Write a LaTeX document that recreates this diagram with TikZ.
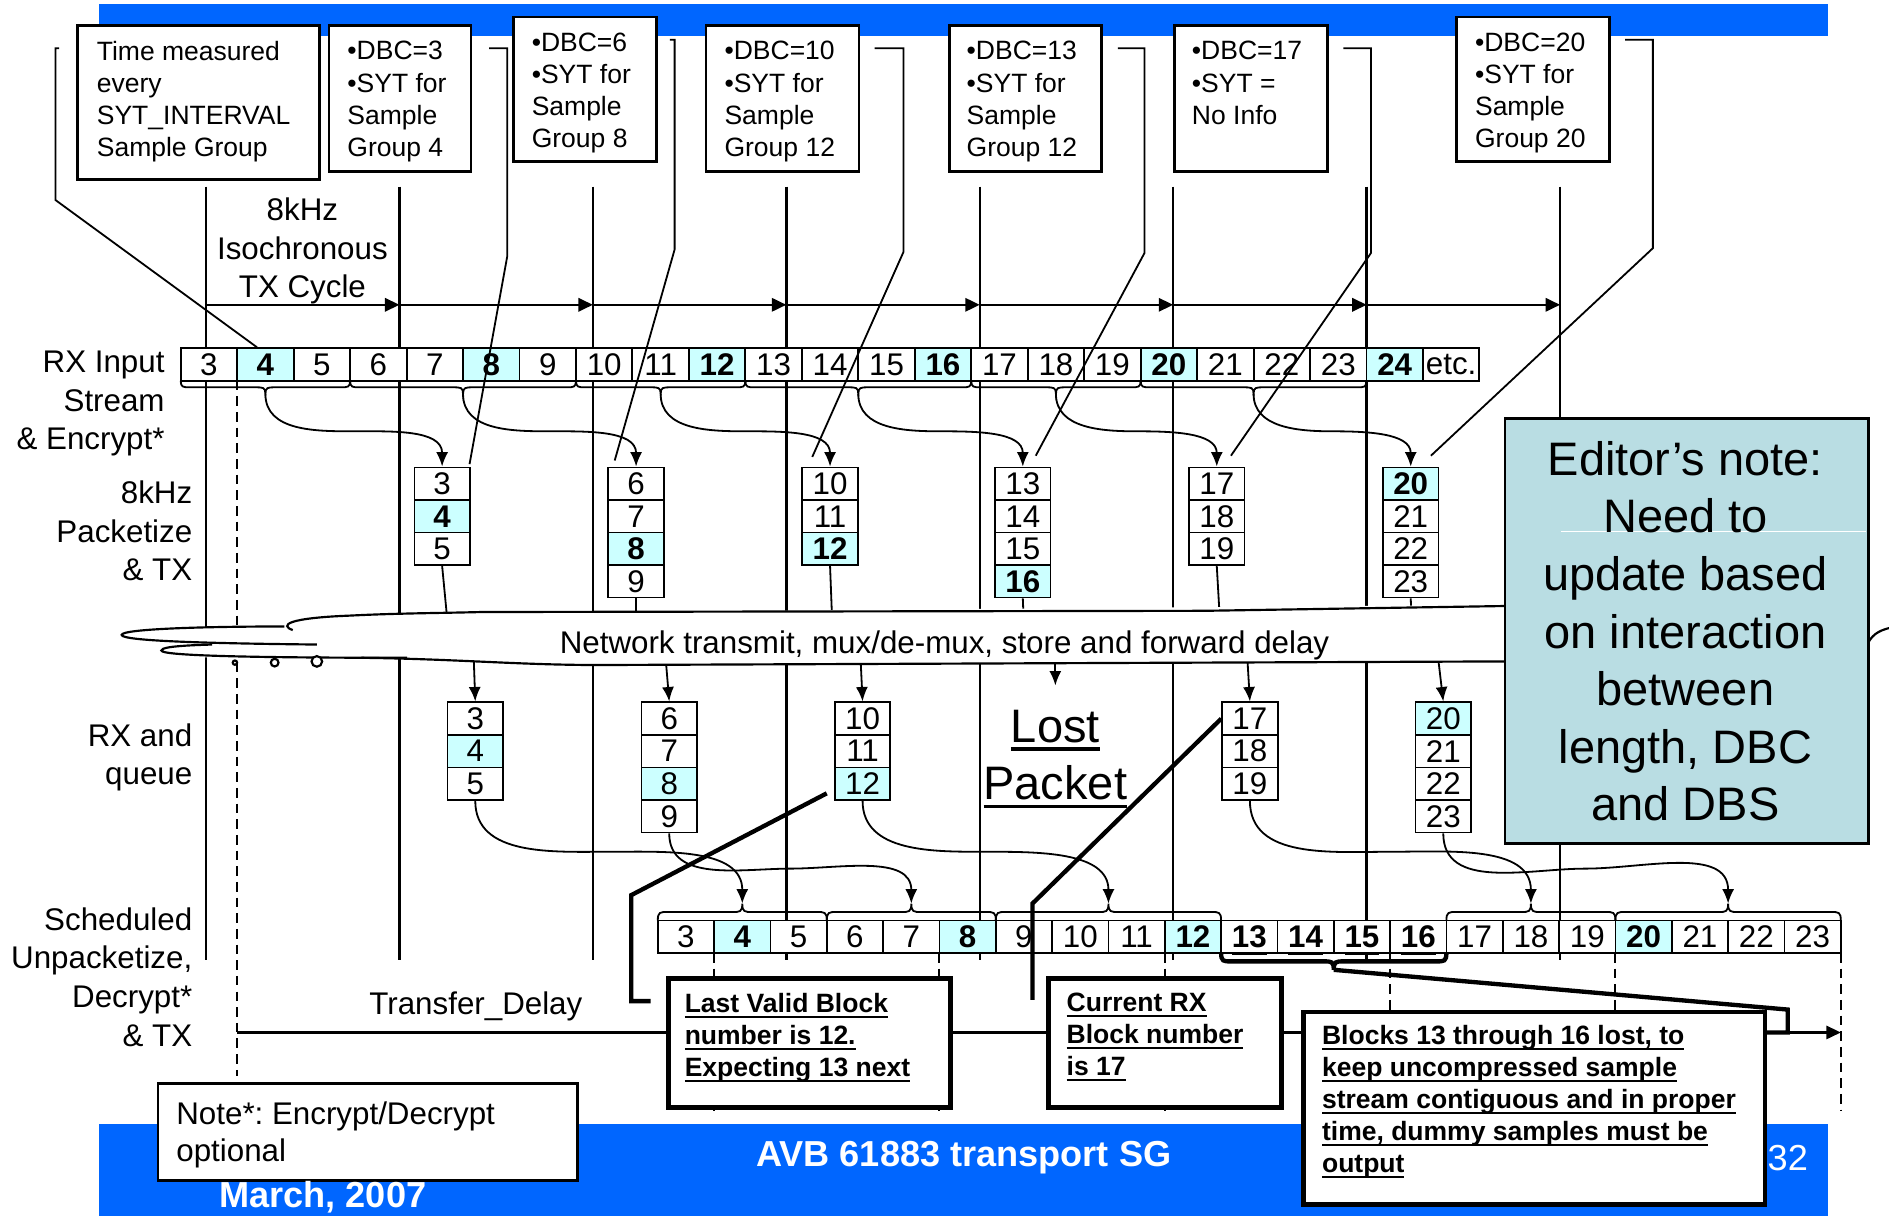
\documentclass[tikz,border=0pt]{standalone}
\usepackage{fontspec}
\setmainfont{Liberation Sans}
\usetikzlibrary{arrows.meta,calc}
\definecolor{barblue}{RGB}{0,102,255}
\definecolor{cellcyan}{RGB}{204,255,255}
\definecolor{notefill}{RGB}{185,221,227}
\frenchspacing
\newcommand{\fmain}{\fontsize{13}{16}\selectfont}
\newcommand{\ftop}{\fontsize{11}{13.3}\selectfont}
\newcommand{\fbig}{\fontsize{19.5}{23.9}\selectfont}
\newcommand{\fbb}{\fontsize{11}{13.25}\selectfont\bfseries}
\newcommand{\fbar}{\fontsize{15}{18}\selectfont\bfseries}
\newcommand{\ulx}[1]{\leavevmode\setbox0\hbox{#1}\rlap{\smash{\rule[-2.3pt]{\wd0}{0.9pt}}}\box0}
\newcommand{\ulbig}[1]{\leavevmode\setbox0\hbox{#1}\rlap{\smash{\rule[-3.4pt]{\wd0}{1.3pt}}}\box0}
\newcommand{\ulc}[1]{\leavevmode\setbox0\hbox{#1}\rlap{\smash{\rule[-3.2pt]{\wd0}{1pt}}}\box0}
% horizontal row of cells: prefix, left x, centre y, cell width, list value/style
\newcommand{\hrowcells}[5]{\foreach \cellv/\cellst [count=\ci] in {#5} {\edef\mytmpcmd{\noexpand\node[ncell,minimum width=23.4pt,\cellst] (#1\ci) at ({#2+(\ci-0.5)*#4},#3) {\noexpand\cellv};}\mytmpcmd}}
% vertical stack of cells: prefix, centre x, top y, list value/style
\newcommand{\vstackcells}[4]{\foreach \cellv/\cellst [count=\ci] in {#4} {\edef\mytmpcmd{\noexpand\node[ncell,minimum width=23pt,\cellst] (#1\ci) at (#2,{#3+(\ci-0.5)*27}) {\noexpand\cellv};}\mytmpcmd}}
% brace: left, right, edge y, signed depth, style
\newcommand{\bracepath}[5]{\draw[#5] (#1,#3) .. controls (#1,{#3+(#4)}) and ({#1+2},{#3+(#4)}) .. ({#1+8},{#3+(#4)}) -- ({(#1+#2)/2-8},{#3+(#4)}) .. controls ({(#1+#2)/2-2},{#3+(#4)}) and ({(#1+#2)/2},{#3+(#4)}) .. ({(#1+#2)/2},{#3+2*(#4)}) .. controls ({(#1+#2)/2},{#3+(#4)}) and ({(#1+#2)/2+2},{#3+(#4)}) .. ({(#1+#2)/2+8},{#3+(#4)}) -- ({#2-8},{#3+(#4)}) .. controls ({#2-2},{#3+(#4)}) and (#2,{#3+(#4)}) .. (#2,#3);}
\begin{document}
\begin{tikzpicture}[x=0.5pt,y=-0.5pt,
  ncell/.style={draw, line width=0.75pt, fill=white, minimum height=13.5pt, inner sep=0pt, font=\fmain},
  cn/.style={},
  chb/.style={fill=cellcyan, font=\fmain\bfseries},
  ch/.style={fill=cellcyan},
  cbb/.style={font=\fmain\bfseries},
  vln/.style={line width=1pt},
  dln/.style={line width=0.8pt, dash pattern=on 4pt off 2.5pt},
  thinln/.style={line width=0.75pt},
  thickln/.style={line width=1.8pt},
  cloudln/.style={line width=0.9pt},
  carr/.style={line width=0.75pt, -{Latex[length=6pt,width=5pt]}},
  tarr/.style={line width=1pt, -{Triangle[length=6pt,width=5.5pt]}},
  topbox/.style={draw, line width=1.1pt, fill=white, inner sep=0pt, anchor=north west},
  botbox/.style={draw, line width=2pt, fill=white, inner sep=0pt, anchor=north west},
  txt/.style={inner sep=0pt, align=left, anchor=north west},
]
\useasboundingbox (0,0) rectangle (1568,1009);
\fill[white] (0,0) rectangle (1568,1009);
\fill[barblue] (82,3) rectangle (1517,30);
\fill[barblue] (82,933) rectangle (1517,1009);

% ---------- top boxes ----------
\node[topbox, minimum width=100.5pt, minimum height=64pt] (bx1) at (63,20) {};
\node[txt, font=\ftop] (bx1t) at (80,34) {Time measured\\every\\SYT\_INTERVAL\\Sample Group};
\node[topbox, minimum width=59pt, minimum height=60.5pt] (bx2) at (272,20) {};
\node[txt, font=\ftop] (bx2t) at (288,34) {•DBC=3\\•SYT for\\Sample\\Group 4};
\node[topbox, minimum width=59.5pt, minimum height=60pt] (bx3) at (425,13) {};
\node[txt, font=\ftop] (bx3t) at (441,27) {•DBC=6\\•SYT for\\Sample\\Group 8};
\node[topbox, minimum width=63.5pt, minimum height=60.5pt] (bx4) at (585,20) {};
\node[txt, font=\ftop] (bx4t) at (601,34) {•DBC=10\\•SYT for\\Sample\\Group 12};
\node[topbox, minimum width=63pt, minimum height=60.5pt] (bx5) at (787,20) {};
\node[txt, font=\ftop] (bx5t) at (802,34) {•DBC=13\\•SYT for\\Sample\\Group 12};
\node[topbox, minimum width=63.5pt, minimum height=60.5pt] (bx6) at (974,20) {};
\node[txt, font=\ftop] (bx6t) at (989,34) {•DBC=17\\•SYT =\\No Info};
\node[topbox, minimum width=63.5pt, minimum height=60pt] (bx7) at (1208,13) {};
\node[txt, font=\ftop] (bx7t) at (1224,27) {•DBC=20\\•SYT for\\Sample\\Group 20};

% ---------- cycle lines ----------
\foreach \k in {0,...,7} {
  \coordinate (ct\k) at ({171+\k*160.57},155);
  \coordinate (cb\k) at ({171+\k*160.57},797);
  \coordinate (ca\k) at ({171+\k*160.57},253);
  \draw[vln] (ct\k) -- (cb\k);
}
\foreach \k [evaluate=\k as \kn using int(\k+1)] in {0,...,6} \draw[tarr] (ca\k) -- (ca\kn);
\node[txt, anchor=north, align=center, font=\fmain] (cyc) at (251,164) {8kHz\\Isochronous\\TX Cycle};

% dashed time marks
\coordinate (dA) at (197,316); \coordinate (dB) at (197,893);
\draw[dln] (dA) -- (dB);
\foreach \xx in {592.8,779.8,966.8,1153.9,1340.9,1528} \draw[dln] (\xx,791) -- (\xx,922);
\coordinate (tdA) at (197,857); \coordinate (tdB) at (1528,857);
\draw[tarr, line width=0.9pt] (tdA) -- (tdB);
\node[inner sep=0pt, font=\fmain] (tdl) at (395,835) {Transfer\_Delay};

% ---------- RX input row ----------
\hrowcells{in}{150}{302.5}{46.87}{3/cn,4/chb,5/cn,6/cn,7/cn,8/chb,9/cn,10/cn,11/cn,12/chb,13/cn,14/cn,15/cn,16/chb,17/cn,18/cn,19/cn,20/chb,21/cn,22/cn,23/cn,24/chb,etc./cn}

% ---------- TX packets ----------
\vstackcells{ta}{367}{388}{3/cn,4/chb,5/cn}
\vstackcells{tb}{528}{388}{6/cn,7/cn,8/chb,9/cn}
\vstackcells{tc}{689}{388}{10/cn,11/cn,12/chb}
\vstackcells{td}{849}{388}{13/cn,14/cn,15/cn,16/chb}
\vstackcells{te}{1010}{388}{17/cn,18/cn,19/cn}
\vstackcells{tf}{1171}{388}{20/chb,21/cn,22/cn,23/cn}

\bracepath{150}{290.6}{316}{5.5}{thinln}
\bracepath{290.6}{478.1}{316}{5.5}{thinln}
\bracepath{478.1}{618.7}{316}{5.5}{thinln}
\bracepath{618.7}{806.2}{316}{5.5}{thinln}
\bracepath{806.2}{946.8}{316}{5.5}{thinln}
\bracepath{946.8}{1134.3}{316}{5.5}{thinln}
\draw[carr] (220.3,327) to[out=-90,in=180] (293.6,358) to[out=0,in=90] (ta1.north);
\draw[carr] (384.35,327) to[out=-90,in=180] (456.2,358) to[out=0,in=90] (tb1.north);
\draw[carr] (548.4,327) to[out=-90,in=180] (618.7,358) to[out=0,in=90] (tc1.north);
\draw[carr] (712.45,327) to[out=-90,in=180] (780.7,358) to[out=0,in=90] (td1.north);
\draw[carr] (876.5,327) to[out=-90,in=180] (943.3,358) to[out=0,in=90] (te1.north);
\draw[carr] (1040.55,327) to[out=-90,in=180] (1105.8,358) to[out=0,in=90] (tf1.north);

% leaders from the top boxes
\draw[thinln] (49,40) -- (46,40) -- (46,166) -- ($(in2.north)+(-7,0)$);
\draw[thinln] (406,40) -- (421,40) -- (421,213) -- ($(ta1.north east)+(-1,-2)$);
\draw[thinln] (556,33) -- (560,33) -- (560,207) -- ($(tb1.north west)+(6,-5)$);
\draw[thinln] (726,40) -- (750,40) -- (750,209) -- ($(tc1.north west)+(9,-8)$);
\draw[thinln] (928,40) -- (950,40) -- (950,210) -- ($(td1.north east)+(-13,-9)$);
\draw[thinln] (1115,40) -- (1138,40) -- (1138,210) -- ($(te1.north east)+(-12,-9)$);
\draw[thinln] (1349,33) -- (1372,33) -- (1372,206) -- ($(tf1.north east)+(-7,-9)$);

% ---------- RX queue boxes ----------
\vstackcells{ra}{394.5}{583}{3/cn,4/ch,5/cn}
\vstackcells{rb}{555.5}{583}{6/cn,7/cn,8/ch,9/cn}
\vstackcells{rc}{716}{583}{10/cn,11/cn,12/ch}
\vstackcells{re}{1037.5}{583}{17/cn,18/cn,19/cn}
\vstackcells{rf}{1198}{583}{20/ch,21/cn,22/cn,23/cn}

% packets into / out of the network
\draw[thinln] (ta3.south) -- (372,522);
\draw[thinln] (tb4.south) -- (528,522);
\draw[thinln] (tc3.south) -- (691,522);
\draw[thinln] (td4.south) -- (850,522);
\draw[thinln] (te3.south) -- (1013,522);
\draw[thinln] (tf4.south) -- (1172,522);
\draw[carr] (393,540) -- (ra1.north);
\draw[carr] (552,540) -- (rb1.north);
\draw[carr] (714,540) -- (rc1.north);
\coordinate (lostA) at (876,540); \coordinate (lostB) at (876,569);
\draw[carr] (lostA) -- (lostB);
\draw[carr] (1035,540) -- (re1.north);
\draw[carr] (1193,540) -- (rf1.north);

% ---------- cloud ----------
\fill[white] (101,527) .. controls (101,522) and (170,520) .. (238,519) -- (260,512) -- (370,509) -- (1250,502) -- (1600,502) -- (1600,551) -- (1250,549) -- (498,552) -- (338,547) -- (180,546) .. controls (140,545) and (133,542) .. (134,540) .. controls (135,537) and (150,536) .. (175,535) .. controls (120,533) and (101,531) .. (101,527) -- cycle;
\draw[cloudln] (243,523) .. controls (232,519) and (238,513) .. (290,511) .. controls (330,509) and (360,509) .. (400,508) -- (1000,507) -- (1250,503);
\draw[cloudln] (236,520) .. controls (170,520) and (101,522) .. (101,527) .. controls (101,532) and (170,534) .. (263,535);
\draw[cloudln] (176,535) .. controls (140,536) and (134,538) .. (134,540) .. controls (134,544) and (200,546) .. (338,546);
\draw[cloudln] (300,546) .. controls (380,547) and (430,552) .. (498,552) -- (1250,549);
\draw[cloudln] (1551,533) .. controls (1555,526) and (1561,522) .. (1575,520);
\draw[cloudln, fill=white] (195,550) circle[radius=0.9pt];
\draw[cloudln, fill=white] (228,550) circle[radius=1.6pt];
\draw[cloudln, fill=white] (263,549) circle[radius=2.2pt];
\node[inner sep=0pt, font=\fmain] (net) at (784,536) {Network transmit, mux/de-mux, store and forward delay};

% ---------- scheduled output row ----------
\hrowcells{out}{546}{777.5}{46.76}{3/cn,4/chb,5/cn,6/cn,7/cn,8/chb,9/cn,10/cn,11/cn,12/chb,\ulc{13}/cbb,\ulc{14}/cbb,\ulc{15}/cbb,\ulc{16}/cbb,17/cn,18/cn,19/cn,20/chb,21/cn,22/cn,23/cn}
\bracepath{546}{686.3}{764}{-7}{thinln}
\bracepath{686.3}{826.6}{764}{-7}{thinln}
\bracepath{826.6}{1013.6}{764}{-7}{thinln}
\bracepath{1200.6}{1340.9}{764}{-7}{thinln}
\bracepath{1340.9}{1528}{764}{-7}{thinln}
\bracepath{1013.6}{1200.6}{791}{7}{thickln}
\draw[carr] (ra3.south) to[out=-90,in=180] (505.3,707) to[out=0,in=90] (616.15,750);
\draw[carr] (rb4.south) to[out=-90,in=180] (656,721) to[out=0,in=90] (756.45,750);
\draw[carr] (rc3.south) to[out=-90,in=180] (818,707) to[out=0,in=90] (920.1,750);
\draw[carr] (re3.south) to[out=-90,in=180] (1154,707) to[out=0,in=90] (1270.75,750);
\draw[carr] (rf4.south) to[out=-90,in=180] (1316,721) to[out=0,in=90] (1434.45,750);

\node[inner sep=0pt, align=center, anchor=north, font=\fbig] (lost) at (876,589) {\ulbig{Lost}\\\ulbig{Packet}};

% ---------- bottom call-out boxes ----------
\node[botbox, minimum width=117pt, minimum height=53.5pt] (lvb) at (553,810) {};
\node[txt, font=\fbb] (lvbt) at (568,824) {\ulx{Last Valid Block}\\\ulx{number is 12.}\\\ulx{Expecting 13 next}};
\node[botbox, minimum width=97pt, minimum height=53.5pt] (crb) at (868,810) {};
\node[txt, font=\fbb] (crbt) at (885,824) {\ulx{Current RX}\\\ulx{Block number}\\\ulx{is 17}};
\node[botbox, minimum width=191.5pt, minimum height=80pt] (blb) at (1080,838) {};
\node[txt, font=\fbb] (blbt) at (1097,851) {\ulx{Blocks 13 through 16 lost, to}\\\ulx{keep uncompressed sample}\\\ulx{stream contiguous and in proper}\\\ulx{time, dummy samples must be}\\\ulx{output}};
\draw[thickln] ($(rc3.west)+(-6,8)$) -- (524,743) -- (524,831) -- (540,831);
\draw[thickln] (re1.west) -- (857,750) -- (857,830);
\draw[thickln] (1107.1,805) -- (1484,838) -- (1484,857) -- (1466,857);

% ---------- editor's note ----------
\node[draw, line width=1.2pt, fill=notefill, minimum width=151pt, minimum height=176.5pt, inner sep=0pt, anchor=north west] (ed) at (1248,346) {};
\draw[white, line width=0.6pt] (1296,441) -- (1549,441);
\node[inner sep=0pt, align=center, font=\fbig] (edt) at (1399,524) {Editor’s note:\\Need to\\update based\\on interaction\\between\\length, DBC\\and DBS};

% ---------- left labels ----------
\node[txt, anchor=north east, align=right, font=\fmain] (lab1) at (137,291) {RX Input\\Stream\\\& Encrypt*};
\node[txt, anchor=north east, align=right, font=\fmain] (lab2) at (160,399) {8kHz\\Packetize\\\& TX};
\node[txt, anchor=north east, align=right, font=\fmain] (lab3) at (160,600) {RX and\\queue};
\node[txt, anchor=north east, align=right, font=\fmain] (lab4) at (160,753) {Scheduled\\Unpacketize,\\Decrypt*\\\& TX};

% ---------- note and footer ----------
\node[draw, line width=1.1pt, fill=white, minimum width=174pt, minimum height=40.5pt, inner sep=0pt, anchor=north west] (nb) at (130,898) {};
\node[txt, font=\fontsize{13}{15.5}\selectfont] (nbt) at (146,914) {Note*: Encrypt/Decrypt\\optional};
\node[font=\fbar, text=white, inner sep=0pt] (ftitle) at (800,961) {AVB 61883 transport SG};
\node[font=\fbar, text=white, inner sep=0pt] (fdate) at (268,994) {March, 2007};
\node[font=\fontsize{15}{18}\selectfont, text=white, inner sep=0pt] (fpage) at (1484,961) {32};
\end{tikzpicture}
\end{document}
